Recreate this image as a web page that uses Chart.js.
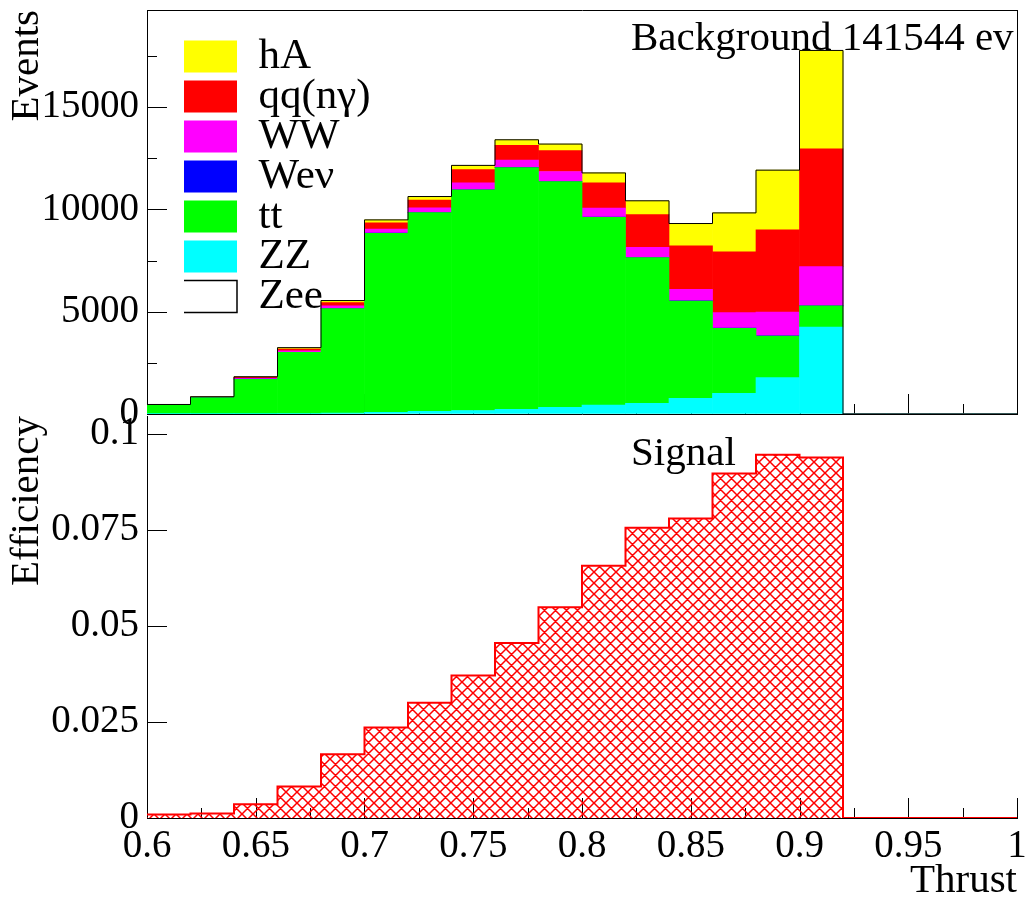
<!doctype html>
<html lang="en">
<head>
    <meta charset="UTF-8">
    <title>Thrust</title>
    <script src="https://cdn.jsdelivr.net/npm/chart.js@4"></script>
    <style>
        body { margin: 0; background: #fff; }
        #wrap { position: relative; width: 1029px; height: 903px; }
        #wrap canvas { position: absolute; left: 0; }
        #top { top: 0; }
        #bottom { top: 396px; }
    </style>
</head>
<body>
<div id="wrap">
    <canvas id="top" width="1029" height="440"></canvas>
    <canvas id="bottom" width="1029" height="507"></canvas>
</div>

<script>
    // bin edges of the Thrust histogram (20 bins of 0.02)
    const binEdges = [0.60, 0.62, 0.64, 0.66, 0.68, 0.70, 0.72, 0.74, 0.76, 0.78, 0.80,
                      0.82, 0.84, 0.86, 0.88, 0.90, 0.92, 0.94, 0.96, 0.98, 1.00];

    // background samples, events per bin (stacked bottom -> top)
    const zee = [0, 0, 0, 0, 0, 0, 0, 0, 0, 0, 0, 0, 0, 0, 0, 0, 0, 0, 0, 0];
    const zz  = [10, 15, 20, 30, 50, 80, 130, 170, 230, 330, 440, 520, 770, 1010, 1780, 4250, 0, 0, 0, 0];
    const tt  = [430, 785, 1680, 2980, 5100, 8750, 9710, 10780, 11810, 11030, 9170, 7120, 4750, 3180, 2030, 1030, 0, 0, 0, 0];
    const wev = [0, 0, 1, 2, 3, 5, 6, 8, 9, 10, 9, 8, 7, 6, 5, 4, 0, 0, 0, 0];
    const ww  = [5, 10, 40, 70, 130, 200, 230, 340, 360, 480, 440, 490, 570, 760, 1160, 1920, 0, 0, 0, 0];
    const qq  = [10, 20, 50, 90, 160, 310, 380, 640, 720, 1020, 1240, 1600, 2120, 2970, 4020, 5750, 0, 0, 0, 0];
    const hA  = [10, 15, 30, 70, 100, 140, 170, 210, 270, 320, 480, 680, 1090, 1900, 2920, 4810, 0, 0, 0, 0];

    // signal efficiency per bin
    const signal = [0.0009, 0.0012, 0.0036, 0.0082, 0.0166, 0.0236, 0.0300, 0.0371, 0.0456, 0.0549,
                    0.0657, 0.0756, 0.0780, 0.0897, 0.0946, 0.0939, 0, 0, 0, 0];

    // labelled ticks
    const thrustTicks = [0.6, 0.65, 0.7, 0.75, 0.8, 0.85, 0.9, 0.95, 1];
    const eventTicks = [0, 5000, 10000, 15000];
    const effTicks = [0, 0.025, 0.05, 0.075, 0.1];

    const bgTitle = 'Background 141544 ev';
    const sigTitle = 'Signal';

    Chart.defaults.font.family = "'Liberation Serif', 'DejaVu Serif', serif";
    Chart.defaults.color = '#000';

    const centers = binEdges.slice(0, -1).map((e, i) => (e + binEdges[i + 1]) / 2);
    const toBars = arr => arr.map((v, i) => ({x: centers[i], y: v}));
    const totals = centers.map((c, i) => zee[i] + zz[i] + tt[i] + wev[i] + ww[i] + qq[i] + hA[i]);
    const toSteps = arr => binEdges.map((e, i) => ({x: e, y: i < arr.length ? arr[i] : arr[arr.length - 1]}));

    function hatch(color) {
        const s = 11;
        const c = document.createElement('canvas');
        c.width = c.height = s;
        const g = c.getContext('2d');
        g.strokeStyle = color;
        g.lineWidth = 1.5;
        g.beginPath();
        for (const k of [-s, 0, s]) {
            g.moveTo(k, 0); g.lineTo(k + s, s);
            g.moveTo(k, s); g.lineTo(k + s, 0);
        }
        g.stroke();
        return g.createPattern(c, 'repeat');
    }

    // no overhang padding from the tick labels, the frame is placed by hand
    const fixSize = (w, h) => s => {
        if (w !== null) s.width = w;
        if (h !== null) s.height = h;
        s.paddingTop = s.paddingBottom = s.paddingLeft = s.paddingRight = 0;
    };
    const useTicks = list => s => { s.ticks = list.map(v => ({value: v})); };

    // ROOT style ticks drawn inward, with optional minor ticks half way
    const insideTicks = {
        id: 'insideTicks',
        beforeDatasetsDraw(chart, args, opts) {
            const {ctx, chartArea: a} = chart;
            ctx.save();
            ctx.strokeStyle = '#000';
            ctx.lineWidth = 1;
            ctx.beginPath();
            for (const id of ['x', 'y']) {
                const s = chart.scales[id];
                const vals = s.ticks.map(t => t.value);
                const marks = vals.map(v => [v, 20]);
                if (opts[id] && vals.length > 1) {
                    const step = vals[1] - vals[0];
                    for (let i = 0; i < vals.length; i++) {
                        const m = vals[i] + step / 2;
                        if (m <= s.max + 1e-9) marks.push([m, 10]);
                    }
                }
                marks.forEach(([v, len]) => {
                    const p = Math.round(s.getPixelForValue(v)) + 0.5;
                    if (id === 'x') { ctx.moveTo(p, a.bottom); ctx.lineTo(p, a.bottom - len); }
                    else { ctx.moveTo(a.left, p); ctx.lineTo(a.left + len, p); }
                });
            }
            ctx.stroke();
            ctx.restore();
        }
    };

    const panelText = {
        id: 'panelText',
        afterDraw(chart, args, opts) {
            const {ctx, chartArea: a} = chart;
            ctx.save();
            ctx.font = "41px 'Liberation Serif'";
            ctx.fillStyle = '#000';
            ctx.textBaseline = 'alphabetic';
            ctx.fillText(opts.text, a.left + opts.x, a.top + opts.y);
            ctx.restore();
        }
    };

    const legendShift = {
        id: 'legendShift',
        afterLayout(chart, args, opts) {
            if (chart.legend && opts.x !== undefined) {
                chart.legend.left = chart.chartArea.left + opts.x;
                chart.legend.top = chart.chartArea.top + opts.y;
            }
        }
    };

    const bar = (label, data, color, border) => ({
        type: 'bar',
        label: label,
        data: toBars(data),
        backgroundColor: color,
        borderColor: border || color,
        borderWidth: border ? 1.5 : 0,
        borderSkipped: false,
        barPercentage: 1,
        categoryPercentage: 1,
        order: 1
    });

    const tickFont = {size: 39, lineHeight: 1};

    new Chart(document.getElementById('top'), {
        type: 'bar',
        data: {
            datasets: [
                bar('Zee', zee, '#ffffff', '#000000'),
                bar('ZZ', zz, '#00ffff'),
                bar('tt', tt, '#00ff00'),
                bar('Weν', wev, '#0000ff'),
                bar('WW', ww, '#ff00ff'),
                bar('qq(nγ)', qq, '#ff0000'),
                bar('hA', hA, '#ffff00'),
                {
                    type: 'line',
                    label: 'total',
                    data: toSteps(totals),
                    stepped: true,
                    borderColor: '#000',
                    borderWidth: 1,
                    pointRadius: 0,
                    fill: false,
                    order: 0
                }
            ]
        },
        options: {
            responsive: false,
            animation: false,
            layout: {padding: {top: 10, right: 12, left: 0, bottom: 0}},
            scales: {
                x: {
                    type: 'linear', min: 0.6, max: 1.0, offset: false, stacked: true,
                    afterBuildTicks: useTicks(thrustTicks),
                    ticks: {display: false, autoSkip: false},
                    grid: {drawOnChartArea: false, drawTicks: false, offset: false},
                    border: {color: '#000'},
                    afterFit: fixSize(null, 26)
                },
                y: {
                    min: 0, max: 19740, stacked: true,
                    afterBuildTicks: useTicks(eventTicks),
                    ticks: {autoSkip: false, padding: 8, font: tickFont, callback: v => String(v)},
                    grid: {drawOnChartArea: false, drawTicks: false},
                    border: {color: '#000'},
                    title: {display: true, text: 'Events', align: 'end', font: {size: 41, lineHeight: 1}, padding: {top: 7, bottom: 0}},
                    afterFit: fixSize(147, null)
                },
                xTop: {
                    type: 'linear', position: 'top', min: 0.6, max: 1.0,
                    ticks: {display: false},
                    grid: {drawOnChartArea: false, drawTicks: false},
                    border: {color: '#000'},
                    afterFit: fixSize(null, 0)
                },
                yRight: {
                    type: 'linear', position: 'right', min: 0, max: 19740,
                    ticks: {display: false},
                    grid: {drawOnChartArea: false, drawTicks: false},
                    border: {color: '#000'},
                    afterFit: fixSize(0, null)
                }
            },
            plugins: {
                legend: {
                    position: 'chartArea',
                    align: 'start',
                    reverse: true,
                    labels: {
                        boxWidth: 56, boxHeight: 32, padding: -3,
                        font: {size: 43}, color: '#000',
                        filter: item => item.datasetIndex < 7
                    }
                },
                tooltip: {enabled: false},
                insideTicks: {x: true, y: true},
                panelText: {text: bgTitle, x: 484, y: 40},
                legendShift: {x: 37, y: 28}
            }
        },
        plugins: [insideTicks, panelText, legendShift]
    });

    new Chart(document.getElementById('bottom'), {
        type: 'line',
        data: {
            datasets: [{
                label: sigTitle,
                data: toSteps(signal),
                stepped: true,
                borderColor: '#ff0000',
                borderWidth: 2,
                backgroundColor: hatch('#ff0000'),
                fill: 'origin',
                pointRadius: 0
            }]
        },
        options: {
            responsive: false,
            animation: false,
            layout: {padding: {top: 20, right: 12, left: 0, bottom: 0}},
            scales: {
                x: {
                    type: 'linear', min: 0.6, max: 1.0,
                    afterBuildTicks: useTicks(thrustTicks),
                    ticks: {autoSkip: false, maxRotation: 0, padding: 9, font: tickFont, callback: v => String(v)},
                    grid: {drawOnChartArea: false, drawTicks: false},
                    border: {color: '#000'},
                    title: {display: true, text: 'Thrust', align: 'end', font: {size: 41, lineHeight: 1}, padding: {top: 0, bottom: 1}},
                    afterFit: fixSize(null, 85)
                },
                y: {
                    min: 0, max: 0.1047,
                    afterBuildTicks: useTicks(effTicks),
                    ticks: {autoSkip: false, padding: 8, font: tickFont, callback: v => String(v)},
                    grid: {drawOnChartArea: false, drawTicks: false},
                    border: {color: '#000'},
                    title: {display: true, text: 'Efficiency', align: 'end', font: {size: 41, lineHeight: 1}, padding: {top: 7, bottom: 0}},
                    afterFit: fixSize(147, null)
                }
            },
            plugins: {
                legend: {display: false},
                tooltip: {enabled: false},
                insideTicks: {x: true, y: false},
                panelText: {text: sigTitle, x: 484, y: 49}
            }
        },
        plugins: [insideTicks, panelText]
    });
</script>
</body>
</html>
